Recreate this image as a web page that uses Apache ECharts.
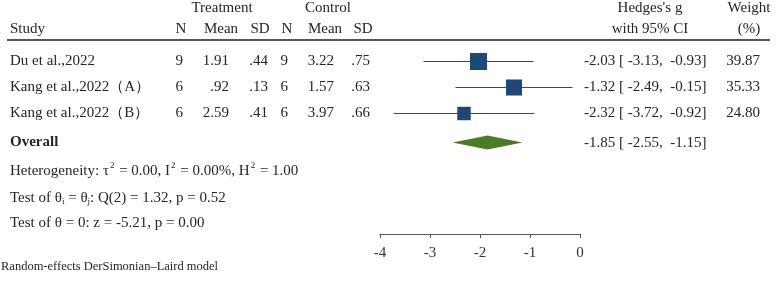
<!DOCTYPE html>
<html>
<head>
<meta charset="utf-8">
<script src="https://cdn.jsdelivr.net/npm/echarts@6/dist/echarts.min.js"></script>
<style>
html,body{margin:0;padding:0;background:#fff;}
#chart{width:777px;height:283px;}
</style>
</head>
<body>
<div id="chart"></div>
<script>
// ---- data ----
var studies = ['Du et al.,2022', 'Kang et al.,2022（A）', 'Kang et al.,2022（B）'];
var treatN = ['9', '6', '6'];
var treatMean = ['1.91', '.92', '2.59'];
var treatSD = ['.44', '.13', '.41'];
var ctrlN = ['9', '6', '6'];
var ctrlMean = ['3.22', '1.57', '3.97'];
var ctrlSD = ['.75', '.63', '.66'];
var effect = [-2.03, -1.32, -2.32];
var ciLow = [-3.13, -2.49, -3.72];
var ciHigh = [-0.93, -0.15, -0.92];
var weights = ['39.87', '35.33', '24.80'];
var overallEffect = -1.85;
var overallLow = -2.55;
var overallHigh = -1.15;
var xTicks = [-4, -3, -2, -1, 0];
var notes = [
  '{t|Heterogeneity: τ}{sup|2}{t| = 0.00, I}{sup|2}{t| = 0.00%, H}{sup|2}{t| = 1.00}',
  '{t|Test of θ}{sub|i}{t| = θ}{sub|j}{t|: Q(2) = 1.32, p = 0.52}',
  '{t|Test of θ = 0: z = -5.21, p = 0.00}'
];
var footer = 'Random-effects DerSimonian–Laird model';

// ---- layout ----
var FONT = '"Liberation Serif", "Times New Roman", serif';
var TXT = '#262626';
var ROW0 = 61.5, ROWH = 26, OVERALL_IDX = 3.12;
function rowY(i) { return ROW0 + ROWH * i; }
var gridTop = 0, gridH = 234;
var yMin = (gridTop - ROW0) / ROWH;
var yMax = yMin + gridH / ROWH;

function fmt(v) { return v.toFixed(2); }
function ciText(g, l, h) { return fmt(g) + ' [ ' + fmt(l) + ',  ' + fmt(h) + ']'; }

var graphics = [];
function txt(x, y, s, align, opts) {
  var style = { text: s, x: x, y: y, font: '15px ' + FONT, fill: TXT, align: align || 'left', verticalAlign: 'middle' };
  if (opts) for (var k in opts) style[k] = opts[k];
  graphics.push({ type: 'text', style: style, silent: true });
}
// headers
txt(222, 8, 'Treatment', 'center');
txt(328, 8, 'Control', 'center');
txt(650, 8, "Hedges's g", 'center');
txt(749, 8, 'Weight', 'center');
txt(10, 29, 'Study', 'left');
txt(181, 29, 'N', 'center');
txt(221, 29, 'Mean', 'center');
txt(260, 29, 'SD', 'center');
txt(287, 29, 'N', 'center');
txt(325, 29, 'Mean', 'center');
txt(363, 29, 'SD', 'center');
txt(650, 29, 'with 95% CI', 'center');
txt(749, 29, '(%)', 'center');
graphics.push({ type: 'line', shape: { x1: 7, y1: 40, x2: 770, y2: 40 }, style: { stroke: '#555', lineWidth: 2 }, silent: true });

var colsRight = [[183, treatN], [229, treatMean], [268, treatSD], [288, ctrlN], [334, ctrlMean], [370, ctrlSD]];
for (var i = 0; i < studies.length; i++) {
  var y = rowY(i);
  txt(10, y, studies[i], 'left');
  colsRight.forEach(function (c) { txt(c[0], y, c[1][i], 'right'); });
  txt(584, y, ciText(effect[i], ciLow[i], ciHigh[i]), 'left');
  txt(760, y, weights[i], 'right');
}
var oy = rowY(OVERALL_IDX);
txt(10, oy, 'Overall', 'left', { font: 'bold 15px ' + FONT });
txt(584, oy, ciText(overallEffect, overallLow, overallHigh), 'left');

var noteY = [170, 197, 222];
notes.forEach(function (n, k) {
  graphics.push({
    type: 'text', silent: true,
    style: {
      x: 10, y: noteY[k], text: n, align: 'left', verticalAlign: 'middle',
      rich: {
        t: { font: '15px ' + FONT, fill: TXT, lineHeight: 18, verticalAlign: 'bottom' },
        sup: { font: '9px ' + FONT, fill: TXT, lineHeight: 18, verticalAlign: 'top', padding: [0, 1, 0, 1] },
        sub: { font: '9px ' + FONT, fill: TXT, lineHeight: 9, verticalAlign: 'bottom' }
      }
    }
  });
});
txt(1, 267, footer, 'left', { font: '12.5px ' + FONT });

var studyPts = effect.map(function (g, i) { return [g, i, ciLow[i], ciHigh[i], parseFloat(weights[i])]; });

var chart = echarts.init(document.getElementById('chart'), null, { renderer: 'canvas' });
chart.setOption({
  animation: false,
  backgroundColor: '#fff',
  grid: { left: 380, width: 200, top: gridTop, height: gridH },
  xAxis: {
    type: 'value', min: -4, max: 0, interval: 1, position: 'bottom',
    axisLine: { show: true, onZero: false, lineStyle: { color: '#555', width: 1 } },
    axisTick: { show: true, length: 4, lineStyle: { color: '#555' } },
    axisLabel: { fontSize: 15, fontFamily: FONT, color: '#333', margin: 12,
      formatter: function (v) { return xTicks.indexOf(v) >= 0 ? String(v) : ''; } },
    splitLine: { show: false }
  },
  yAxis: { type: 'value', min: yMin, max: yMax, inverse: true, show: false },
  series: [
    {
      type: 'custom',
      data: studyPts,
      renderItem: function (params, api) {
        var a = api.coord([api.value(2), api.value(1)]);
        var b = api.coord([api.value(3), api.value(1)]);
        return { type: 'line', shape: { x1: a[0], y1: a[1], x2: b[0], y2: b[1] }, style: { stroke: '#2a4a72', lineWidth: 1 } };
      },
      z: 2
    },
    {
      type: 'scatter',
      symbol: 'rect',
      data: studyPts,
      symbolSize: function (v) { return 2.7 * Math.sqrt(v[4]); },
      itemStyle: { color: '#1d4878', opacity: 1 },
      z: 3
    },
    {
      type: 'custom',
      data: [[overallEffect, OVERALL_IDX, overallLow, overallHigh]],
      renderItem: function (params, api) {
        var c = api.coord([api.value(0), api.value(1)]);
        var l = api.coord([api.value(2), api.value(1)]);
        var r = api.coord([api.value(3), api.value(1)]);
        var h = 7;
        return { type: 'polygon', shape: { points: [[l[0], c[1]], [c[0], c[1] - h], [r[0], c[1]], [c[0], c[1] + h]] }, style: { fill: '#4e7a28' } };
      },
      z: 3
    }
  ],
  graphic: graphics
});
</script>
</body>
</html>
